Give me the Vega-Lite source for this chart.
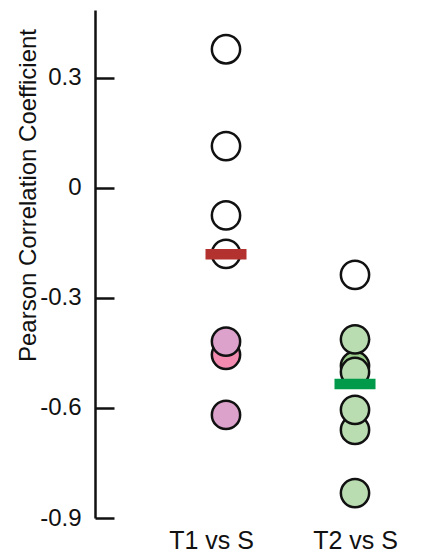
{
  "$schema": "https://vega.github.io/schema/vega-lite/v6.json",
  "autosize": "none",
  "width": 326,
  "height": 508,
  "padding": {"left": 95, "top": 10, "right": 1, "bottom": 35},
  "background": "white",
  "config": {
    "view": {"stroke": null},
    "font": "Liberation Sans",
    "axis": {"labelFont": "Liberation Sans", "titleFont": "Liberation Sans", "labelColor": "#111", "titleColor": "#111"}
  },
  "datasets": {
    "pts": [
      {"group": "T1 vs S", "r": 0.378, "kind": "open"},
      {"group": "T1 vs S", "r": 0.114, "kind": "open"},
      {"group": "T1 vs S", "r": -0.075, "kind": "open"},
      {"group": "T1 vs S", "r": -0.18, "kind": "open"},
      {"group": "T1 vs S", "r": -0.455, "kind": "pink2"},
      {"group": "T1 vs S", "r": -0.419, "kind": "pink"},
      {"group": "T1 vs S", "r": -0.619, "kind": "pink"},
      {"group": "T2 vs S", "r": -0.237, "kind": "open"},
      {"group": "T2 vs S", "r": -0.485, "kind": "green2"},
      {"group": "T2 vs S", "r": -0.413, "kind": "green"},
      {"group": "T2 vs S", "r": -0.502, "kind": "green"},
      {"group": "T2 vs S", "r": -0.66, "kind": "green"},
      {"group": "T2 vs S", "r": -0.605, "kind": "green"},
      {"group": "T2 vs S", "r": -0.832, "kind": "green"}
    ],
    "means": [
      {"group": "T1 vs S", "mean": -0.181},
      {"group": "T2 vs S", "mean": -0.535}
    ]
  },
  "encoding": {
    "x": {
      "field": "group", "type": "nominal",
      "scale": {"type": "point", "domain": ["T1 vs S", "T2 vs S"], "range": [131, 260], "padding": 0},
      "axis": {
        "title": null, "domain": false, "ticks": false, "labelAngle": 0,
        "labelFontSize": 25, "labelPadding": 10,
        "labelOffset": {"condition": {"test": "datum.value === 'T1 vs S'", "value": -15}, "value": 0}
      }
    }
  },
  "layer": [
    {
      "mark": {"type": "rule", "color": "#111", "strokeWidth": 2.5},
      "encoding": {"y": {"datum": 0, "type": "quantitative"}, "x": null}
    },
    {
      "data": {"name": "pts"},
      "mark": {"type": "point", "shape": "circle", "filled": false, "size": 800, "stroke": "#111", "strokeWidth": 2.5, "opacity": 1, "fillOpacity": 1},
      "encoding": {
        "y": {
          "field": "r", "type": "quantitative",
          "scale": {"domain": [-0.9, 0.485], "nice": false, "zero": false},
          "axis": {
            "values": [-0.9, -0.6, -0.3, 0, 0.3],
            "labelExpr": "datum.value == 0 ? '0' : toString(datum.value)",
            "grid": false, "domainColor": "#111", "domainWidth": 2.5,
            "tickColor": "#111", "tickWidth": 2.5, "tickSize": -19,
            "labelFontSize": 24, "labelPadding": 33,
            "title": "Pearson Correlation Coefficient", "titleFontSize": 24, "titleFontWeight": "normal",
            "titleX": -60, "titleY": 185, "titleBaseline": "alphabetic", "titleAngle": -90
          }
        },
        "fill": {
          "field": "kind", "type": "nominal", "legend": null,
          "scale": {"domain": ["open", "pink", "pink2", "green", "green2"], "range": ["#ffffff", "#dca2cb", "#f38bb1", "#b9ddb1", "#9ccf8c"]}
        }
      }
    },
    {
      "data": {"name": "means"},
      "mark": {"type": "tick", "thickness": 10.5, "size": 41, "opacity": 1},
      "encoding": {
        "y": {"field": "mean", "type": "quantitative"},
        "color": {"condition": {"test": "datum.group === 'T1 vs S'", "value": "#b3312f"}, "value": "#009a4a"}
      }
    }
  ]
}
